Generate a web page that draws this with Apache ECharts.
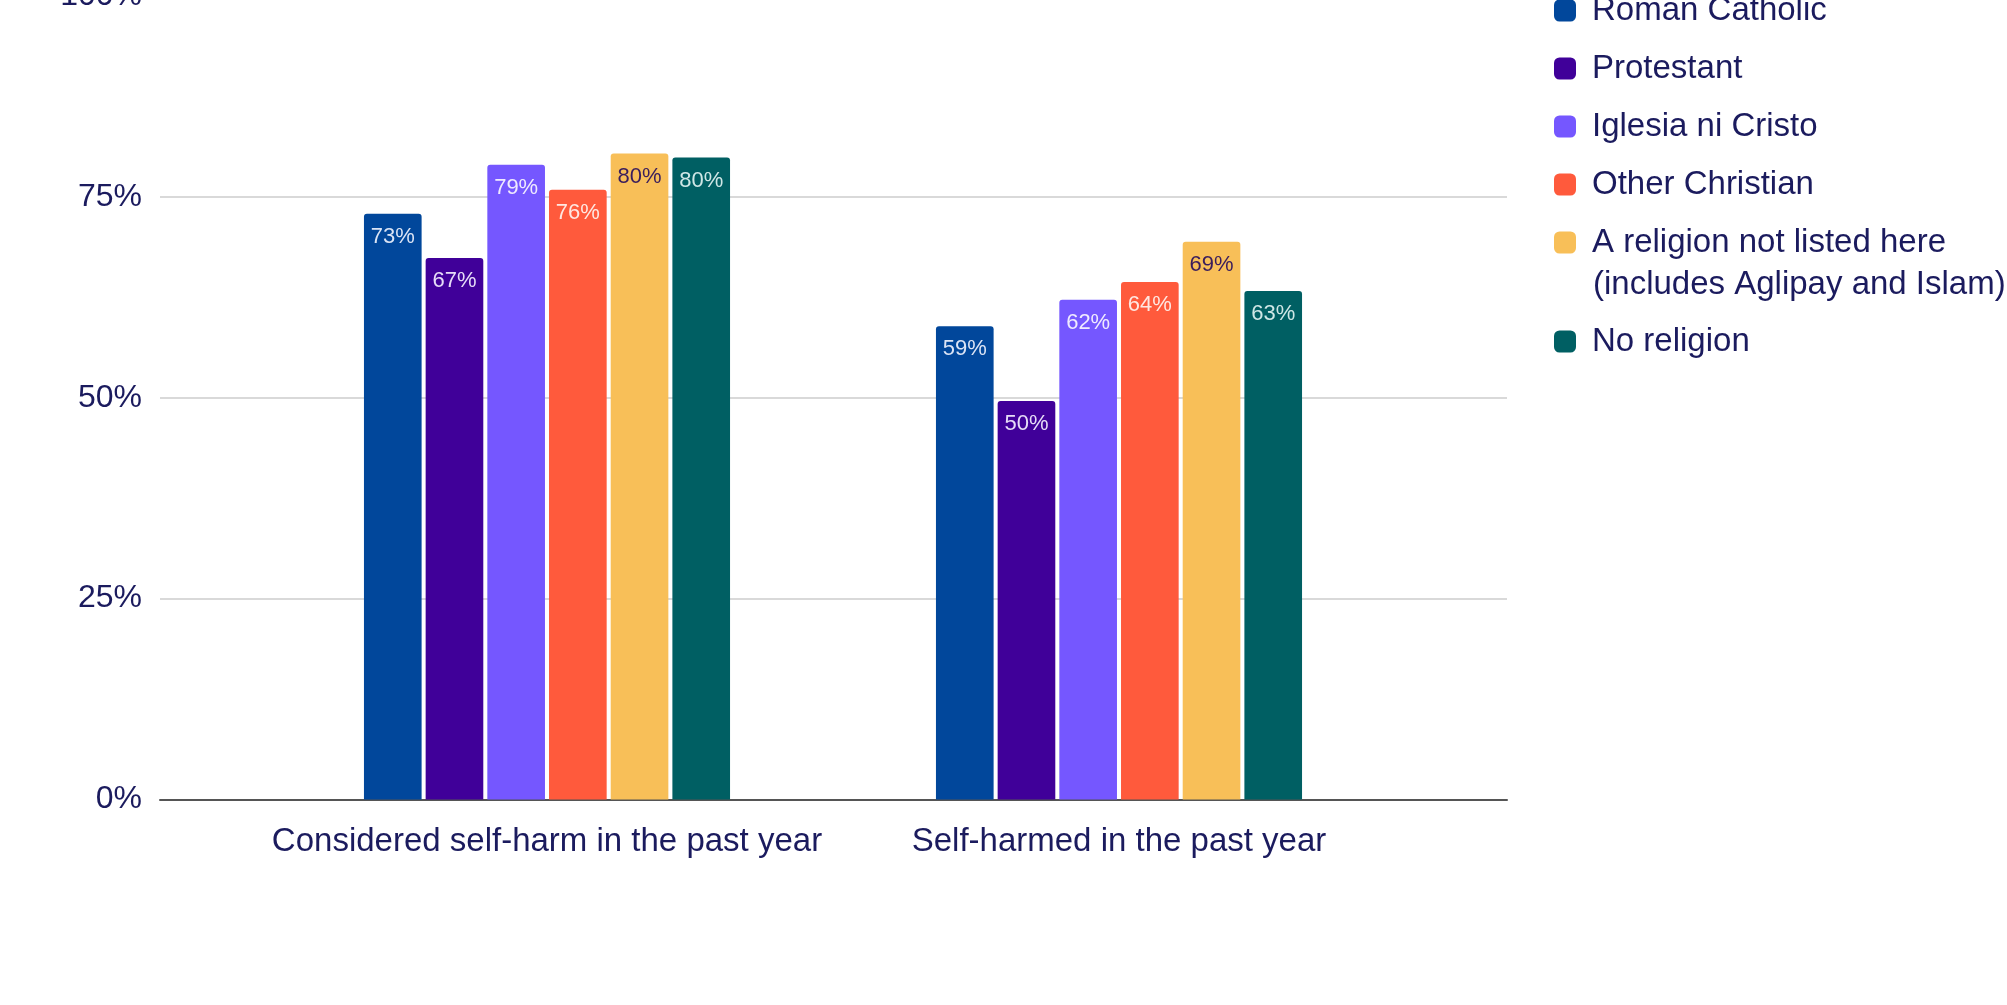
<!DOCTYPE html>
<html>
<head>
<meta charset="utf-8">
<script src="https://cdn.jsdelivr.net/npm/echarts@6/dist/echarts.min.js"></script>
<style>
html,body{margin:0;padding:0;background:#fff;}
#chart{width:2007px;height:1005px;}
</style>
</head>
<body>
<div id="chart"></div>
<script>
const categories = ['Considered self-harm in the past year', 'Self-harmed in the past year'];
const seriesNames = ['Roman Catholic', 'Protestant', 'Iglesia ni Cristo', 'Other Christian', 'A religion not listed here (includes Aglipay and Islam)', 'No religion'];
const romanCatholic = [72.9, 58.9];
const protestant = [67.4, 49.6];
const iglesia = [79.0, 62.2];
const otherChristian = [75.9, 64.4];
const notListed = [80.4, 69.4];
const noReligion = [79.9, 63.3];
const yTicks = [0, 25, 50, 75, 100];

const colors = ['#01479b', '#400099', '#7557ff', '#ff5a3c', '#f8bf58', '#005f63'];
const labelColors = ['#dbe4f5', '#e6dcf7', '#efeaff', '#ffe7e1', '#3a1d5c', '#cfe7e6'];
const values = [romanCatholic, protestant, iglesia, otherChristian, notListed, noReligion];
const textColor = '#1b1b5e';
const font = "'Liberation Sans', Arial, sans-serif";

const chart = echarts.init(document.getElementById('chart'), null, {renderer: 'canvas'});

const series = seriesNames.map((name, i) => ({
  name: name,
  type: 'bar',
  xAxisIndex: 1,
  yAxisIndex: 1,
  data: values[i],
  barGap: '7%',
  barCategoryGap: '36%',
  itemStyle: {color: colors[i], borderRadius: [3, 3, 0, 0]},
  label: {
    show: true,
    position: 'insideTop',
    distance: 12,
    color: labelColors[i],
    fontSize: 22,
    fontFamily: font,
    formatter: p => Math.round(p.value) + '%'
  }
}));

const option = {
  backgroundColor: '#ffffff',
  animation: false,
  grid: [
    {left: 160, right: 500, top: -4, bottom: 205.5, outerBoundsMode: 'none', containLabel: false},
    {left: 261, right: 602, top: -4, bottom: 205.5, outerBoundsMode: 'none', containLabel: false}
  ],
  xAxis: [
    {
      type: 'category', gridIndex: 0, data: ['', ''],
      axisLine: {show: true, lineStyle: {color: '#555555', width: 2}},
      axisTick: {show: false}, axisLabel: {show: false}, splitLine: {show: false}, z: 1
    },
    {
      type: 'category', gridIndex: 1, data: categories,
      axisLine: {show: false}, axisTick: {show: false}, splitLine: {show: false},
      axisLabel: {color: textColor, fontSize: 33, fontFamily: font, margin: 26, interval: 0}
    }
  ],
  yAxis: [
    {
      type: 'value', gridIndex: 0, min: yTicks[0], max: yTicks[yTicks.length - 1], interval: 25,
      axisLine: {show: false}, axisTick: {show: false},
      splitLine: {show: true, lineStyle: {color: '#d9d9d9', width: 2}},
      axisLabel: {color: textColor, fontSize: 32, fontFamily: font, margin: 18, formatter: '{value}%'}
    },
    {
      type: 'value', gridIndex: 1, min: yTicks[0], max: yTicks[yTicks.length - 1], interval: 25,
      show: false, splitLine: {show: false}
    }
  ],
  legend: [
    {
      orient: 'vertical', left: 1554, top: -10, padding: 0, itemGap: 17,
      itemWidth: 22, itemHeight: 22, icon: 'roundRect',
      data: seriesNames.slice(0, 5),
      formatter: name => name.indexOf('(') > 0 ? name.slice(0, name.indexOf('(')).trim() : name,
      textStyle: {color: textColor, fontSize: 33, fontFamily: font, lineHeight: 41, padding: [0, 0, 0, 11]}
    },
    {
      orient: 'vertical', left: 1554, top: 321, padding: 0, itemGap: 17,
      itemWidth: 22, itemHeight: 22, icon: 'roundRect',
      data: seriesNames.slice(5),
      textStyle: {color: textColor, fontSize: 33, fontFamily: font, lineHeight: 41, padding: [0, 0, 0, 11]}
    }
  ],
  graphic: [
    {
      type: 'text', left: 1593, top: 264,
      style: {text: '(includes Aglipay and Islam)', fill: textColor, font: "33px 'Liberation Sans', Arial, sans-serif", lineHeight: 41}
    }
  ],
  series: series
};
chart.setOption(option);
</script>
</body>
</html>
